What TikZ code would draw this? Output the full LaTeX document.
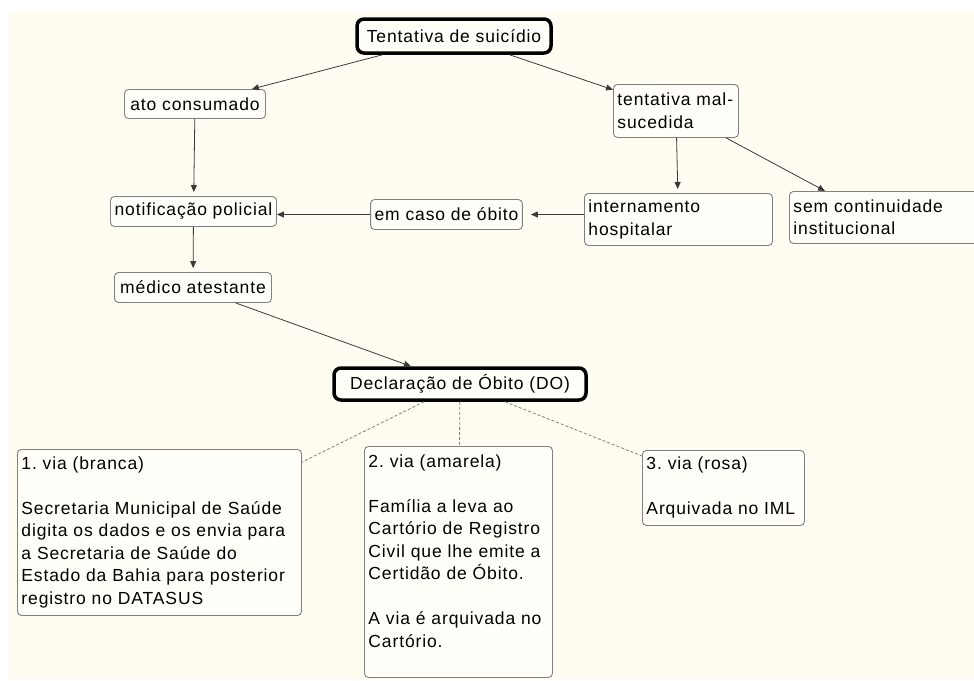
\documentclass[tikz,border=0pt]{standalone}
\usepackage{xcolor}
\usepackage{fontspec}
\setmainfont{Liberation Sans}[LetterSpace=5]
\usepackage{tikz}
\usetikzlibrary{arrows.meta}
\definecolor{paper}{HTML}{FFFDF2}
\definecolor{boxfill}{HTML}{FFFEF8}
\definecolor{edgegray}{HTML}{808080}
\definecolor{arrowgray}{HTML}{3A3A3A}
\frenchspacing

\begin{document}
\begin{tikzpicture}[x=1pt, y=-1pt, >={Triangle[length=7pt,width=6pt]}, font=\fontsize{17.5}{22.5}\selectfont]
\tikzstyle{box}=[draw=edgegray, line width=0.9pt, rounded corners=4pt, fill=boxfill, inner xsep=4pt, inner ysep=0pt]
\tikzstyle{mainbox}=[box, draw=black, line width=3.5pt, rounded corners=7pt]
\tikzstyle{textbox}=[box, align=left, anchor=north west]
\tikzstyle{arrow}=[->, draw=arrowgray, line width=0.8pt]
\tikzstyle{via}=[draw=edgegray, line width=0.8pt, dash pattern=on 3pt off 2pt]
\useasboundingbox (0,0) rectangle (974,680);
\clip (0,0) rectangle (974,680);
\fill[white] (0,0) rectangle (974,680);
\fill[paper] (8,12) rectangle (974,680);

\node[mainbox, minimum width=194pt, minimum height=34pt] (tentativa) at (454,36) {Tentativa de suicídio};
\node[box, minimum width=141pt, minimum height=29pt] (ato) at (195,104) {ato consumado};
\node[textbox, text width=117pt, minimum height=53pt] (malsucedida) at (613,84) {tentativa mal-\\sucedida};
\node[box, minimum width=166pt, minimum height=30pt] (notificacao) at (193.5,211.5) {notificação policial};
\node[box, minimum width=148pt, minimum height=30pt] (obito) at (446.5,214.5) {em caso de óbito};
\node[textbox, text width=180pt, minimum height=52pt] (internamento) at (584,193) {internamento\\hospitalar};
\node[textbox, text width=200pt, minimum height=52pt] (semcont) at (789,191) {sem continuidade\\institucional};
\node[box, minimum width=157pt, minimum height=30pt] (medico) at (193,287.5) {médico atestante};
\node[mainbox, minimum width=252pt, minimum height=32pt] (declaracao) at (460,384) {Declaração de Óbito (DO)};
\node[textbox, text width=276pt, minimum height=166pt] (via1) at (17,449) {1. via (branca)\\[22.5pt]Secretaria Municipal de Saúde\\digita os dados e os envia para\\a Secretaria de Saúde do\\Estado da Bahia para posterior\\registro no DATASUS};
\node[textbox, text width=180pt, minimum height=231pt] (via2) at (364,446) {2. via (amarela)\\[22.5pt]Família a leva ao\\Cartório de Registro\\Civil que lhe emite a\\Certidão de Óbito.\\[22.5pt]A via é arquivada no\\Cartório.\\ \mbox{}};
\node[textbox, text width=154pt, minimum height=75pt] (via3) at (642,450) {3. via (rosa)\\[22.5pt]Arquivada no IML};

\draw[arrow] (tentativa) -- (ato);
\draw[arrow] (tentativa) -- (malsucedida);
\draw[arrow, shorten >=4pt] (ato) -- (notificacao);
\draw[arrow, shorten >=4pt] (notificacao) -- (medico);
\draw[arrow] (obito.west) -- (obito.west -| notificacao.east);
\draw[arrow, shorten >=8pt] (internamento.west |- obito.east) -- (obito.east);
\draw[arrow, shorten >=4pt] (malsucedida) -- (internamento);
\draw[arrow] (malsucedida) -- ([xshift=36pt]semcont.north west);
\draw[arrow] (medico) -- (declaracao);
\draw[via] (declaracao) -- (via1);
\draw[via] (declaracao) -- (via2);
\draw[via] (declaracao) -- (via3);
\end{tikzpicture}
\end{document}
